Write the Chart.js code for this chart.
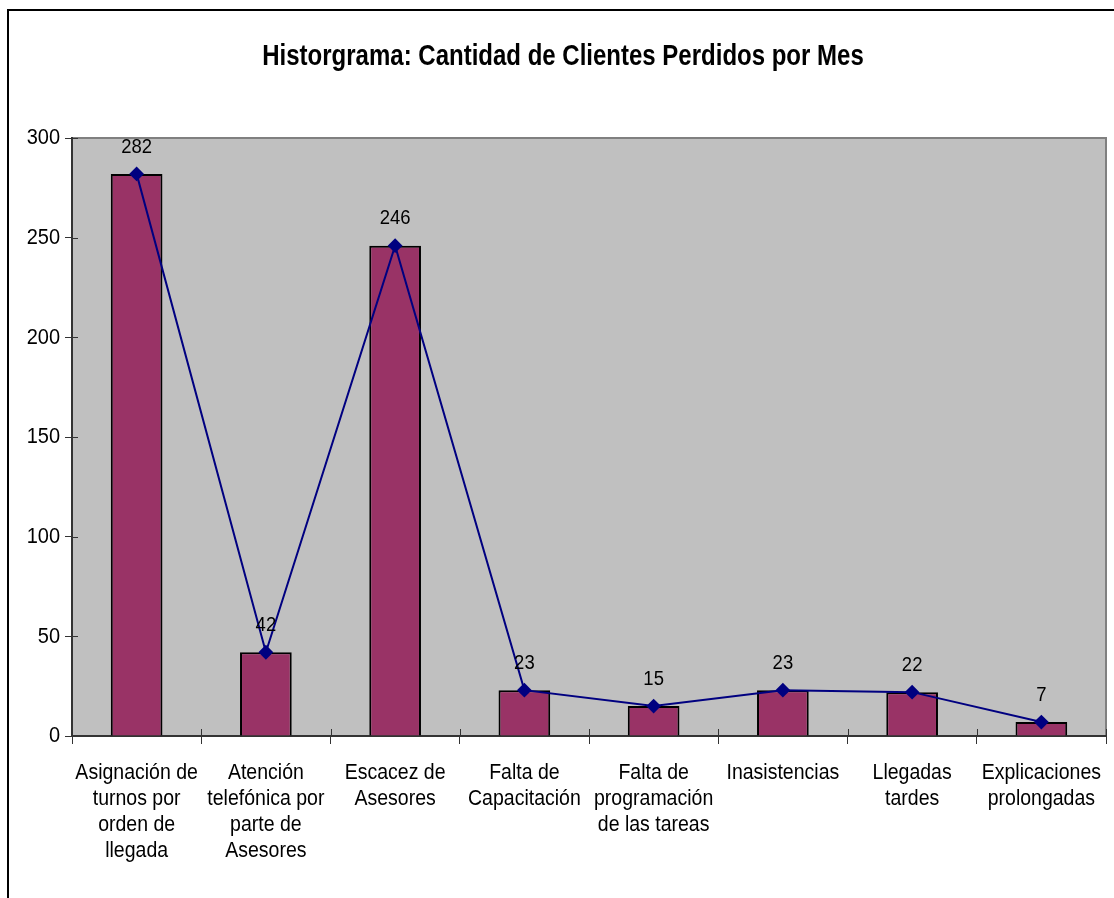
<!DOCTYPE html>
<html lang="es">
<head>
<meta charset="UTF-8">
<title>Historgrama: Cantidad de Clientes Perdidos por Mes</title>
<script src="https://cdn.jsdelivr.net/npm/chart.js"></script>
<style>
  body { margin: 0; background: #fff; }
  canvas { display: block; }
</style>
</head>
<body>
<canvas id="histograma" width="1114" height="898"></canvas>
<script>
// categorias (etiquetas en varias lineas) y valores por causa
const categorias = [
  ['Asignación de', 'turnos por', 'orden de', 'llegada'],
  ['Atención', 'telefónica por', 'parte de', 'Asesores'],
  ['Escacez de', 'Asesores'],
  ['Falta de', 'Capacitación'],
  ['Falta de', 'programación', 'de las tareas'],
  ['Inasistencias'],
  ['Llegadas', 'tardes'],
  ['Explicaciones', 'prolongadas']
];
const clientesPerdidos = [282, 42, 246, 23, 15, 23, 22, 7];
const ejeY = { min: 0, max: 300, paso: 50 };
const titulo = 'Historgrama: Cantidad de Clientes Perdidos por Mes';

const FUENTE = "'Liberation Sans', Arial, sans-serif";
const ESTIRA = 1.13; // letra algo mas alta que ancha

function texto(ctx, txt, x, y, font, estira) {
  ctx.save();
  ctx.translate(x, y);
  ctx.scale(1, estira || ESTIRA);
  ctx.font = font;
  ctx.fillText(txt, 0, 0);
  ctx.restore();
}

// fondo blanco, marco exterior y area de trazado gris
const fondo = {
  id: 'fondo',
  beforeDraw(chart) {
    const { ctx, chartArea: a } = chart;
    ctx.save();
    ctx.fillStyle = '#ffffff';
    ctx.fillRect(0, 0, chart.width, chart.height);
    ctx.strokeStyle = '#000';
    ctx.lineWidth = 2;
    ctx.beginPath();
    ctx.moveTo(8, chart.height);
    ctx.lineTo(8, 10);
    ctx.lineTo(chart.width, 10);
    ctx.stroke();
    ctx.fillStyle = '#c0c0c0';
    ctx.fillRect(a.left, a.top, a.right - a.left, a.bottom - a.top);
    ctx.strokeStyle = '#808080';
    ctx.lineWidth = 2;
    ctx.beginPath();
    ctx.moveTo(a.left, a.top);
    ctx.lineTo(a.right, a.top);
    ctx.lineTo(a.right, a.bottom);
    ctx.stroke();
    ctx.restore();
  }
};

// titulo, etiquetas de ejes, marcas que cruzan el eje y valores de la linea
const textos = {
  id: 'textos',
  afterDraw(chart) {
    const { ctx, chartArea: a } = chart;
    const x = chart.scales.x;
    const y = chart.scales.y;
    ctx.save();

    // marcas cortas hacia dentro del area
    ctx.strokeStyle = '#333';
    ctx.lineWidth = 1;
    ctx.beginPath();
    for (let i = 0; i <= categorias.length; i++) {
      const px = Math.round(x.getPixelForValue(i - 0.5)) + 0.5;
      ctx.moveTo(px, a.bottom - 7);
      ctx.lineTo(px, a.bottom);
    }
    y.ticks.forEach(t => {
      const py = Math.round(y.getPixelForValue(t.value)) + 0.5;
      ctx.moveTo(a.left, py);
      ctx.lineTo(a.left + 6, py);
    });
    ctx.stroke();

    ctx.fillStyle = '#000';
    ctx.textBaseline = 'middle';
    ctx.textAlign = 'center';
    texto(ctx, titulo, 563, 57, 'bold 24px ' + FUENTE, 1.2);

    // valores de la linea
    const meta = chart.getDatasetMeta(1);
    meta.data.forEach((p, i) => {
      texto(ctx, String(clientesPerdidos[i]), p.x, p.y - 27, '18.5px ' + FUENTE);
    });

    // categorias
    categorias.forEach((lineas, i) => {
      const px = x.getPixelForValue(i);
      lineas.forEach((l, k) => {
        texto(ctx, l, px, x.top + 37 + k * 26, '19.5px ' + FUENTE);
      });
    });

    // eje de valores
    ctx.textAlign = 'right';
    y.ticks.forEach(t => {
      texto(ctx, String(t.value), a.left - 12, y.getPixelForValue(t.value), '20px ' + FUENTE);
    });
    ctx.restore();
  }
};

new Chart(document.getElementById('histograma'), {
  data: {
    labels: categorias,
    datasets: [
      {
        type: 'bar',
        data: clientesPerdidos,
        backgroundColor: '#993366',
        borderColor: '#000',
        borderWidth: 2,
        barPercentage: 0.4,
        categoryPercentage: 1,
        order: 1
      },
      {
        type: 'line',
        data: clientesPerdidos,
        borderColor: '#000080',
        borderWidth: 2,
        pointStyle: 'rectRot',
        pointRadius: 6,
        pointBackgroundColor: '#000080',
        pointBorderColor: '#000080',
        tension: 0,
        order: 0
      }
    ]
  },
  options: {
    responsive: false,
    animation: false,
    layout: { padding: { left: 0, right: 7, top: 138, bottom: 0 } },
    plugins: {
      legend: { display: false },
      tooltip: { enabled: false }
    },
    scales: {
      x: {
        grid: {
          offset: true,
          drawOnChartArea: false,
          tickLength: 8,
          color: '#333',
          lineWidth: 1
        },
        border: { display: true, color: '#333', width: 2 },
        ticks: { display: false, autoSkip: false },
        afterFit(scale) { scale.height = 162; }
      },
      y: {
        min: ejeY.min,
        max: ejeY.max,
        ticks: { display: false, stepSize: ejeY.paso },
        grid: {
          drawOnChartArea: false,
          tickLength: 7,
          color: '#333'
        },
        border: { display: true, color: '#333', width: 2 },
        afterFit(scale) { scale.width = 72; }
      }
    }
  },
  plugins: [fondo, textos]
});
</script>
</body>
</html>
